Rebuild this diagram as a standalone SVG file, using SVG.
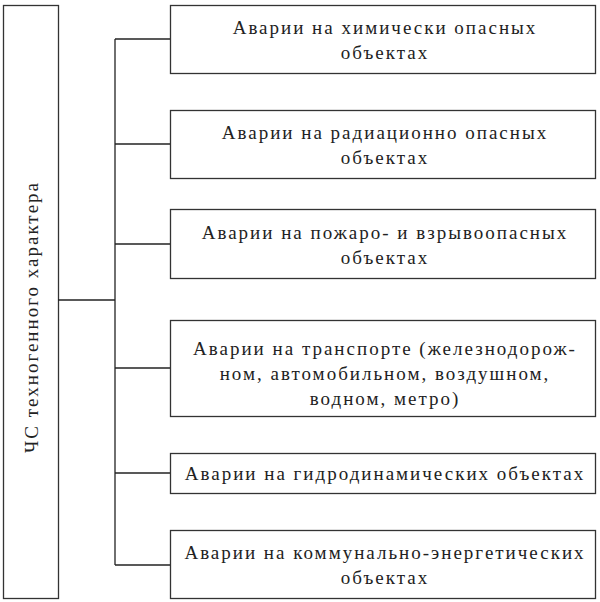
<svg xmlns="http://www.w3.org/2000/svg" width="600" height="602" viewBox="0 0 600 602">
<style>
rect{fill:#fff;stroke:#333;stroke-width:1.3}
line{stroke:#222;stroke-width:1.3}
text{font-family:"Liberation Serif",serif;font-size:19px;letter-spacing:2px;fill:#222;text-anchor:middle}
</style>
<rect x="0" y="0" width="600" height="602" style="stroke:none"/>
<g id="root"><rect x="3.5" y="5.5" width="55" height="593"/><text transform="translate(38,317) rotate(-90)">ЧС техногенного характера</text></g>
<g id="connectors">
<line x1="58" y1="300" x2="115" y2="300"/>
<line x1="115" y1="39" x2="115" y2="565"/>
<line x1="115" y1="39" x2="170" y2="39"/>
<line x1="115" y1="144" x2="170" y2="144"/>
<line x1="115" y1="244" x2="170" y2="244"/>
<line x1="115" y1="368" x2="170" y2="368"/>
<line x1="115" y1="473" x2="170" y2="473"/>
<line x1="115" y1="565" x2="170" y2="565"/>
</g>
<g id="n1"><rect x="170.5" y="5.5" width="425" height="68"/><text x="385" y="34">Аварии на химически опасных</text><text x="385" y="59">объектах</text></g>
<g id="n2"><rect x="170.5" y="110.5" width="425" height="68"/><text x="385" y="139">Аварии на радиационно опасных</text><text x="385" y="164">объектах</text></g>
<g id="n3"><rect x="170.5" y="209.5" width="425" height="69"/><text x="385" y="239">Аварии на пожаро- и взрывоопасных</text><text x="385" y="264">объектах</text></g>
<g id="n4"><rect x="170.5" y="320.5" width="425" height="96"/><text x="385" y="355">Аварии на транспорте (железнодорож-</text><text x="385" y="380">ном, автомобильном, воздушном,</text><text x="385" y="405">водном, метро)</text></g>
<g id="n5"><rect x="170.5" y="453.5" width="425" height="40"/><text x="385" y="480">Аварии на гидродинамических объектах</text></g>
<g id="n6"><rect x="170.5" y="530.5" width="425" height="68"/><text x="385" y="559">Аварии на коммунально-энергетических</text><text x="385" y="584">объектах</text></g>
</svg>
